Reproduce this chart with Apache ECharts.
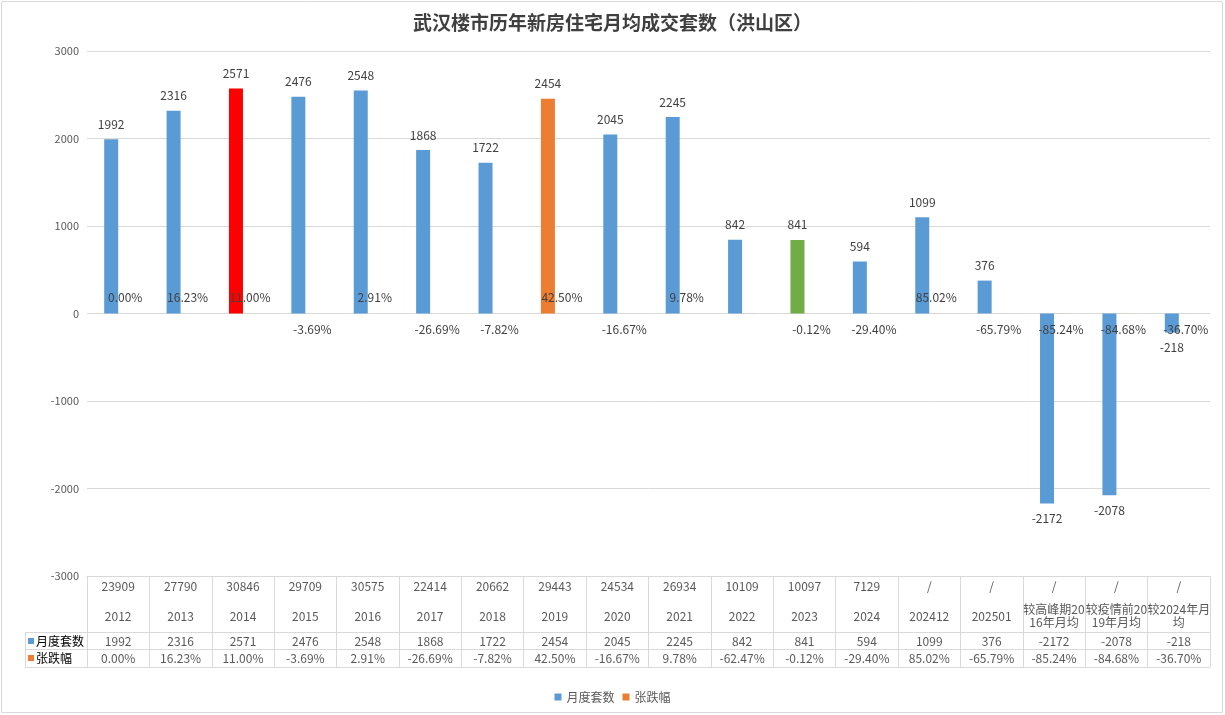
<!DOCTYPE html>
<html><head><meta charset="utf-8">
<script src="https://cdn.jsdelivr.net/npm/echarts@6/dist/echarts.min.js"></script>
<style>html,body{margin:0;padding:0;background:#fff}#c{width:1225px;height:715px}</style>
</head><body><div id="c"></div>
<script>
const categories = ['2012','2013','2014','2015','2016','2017','2018','2019','2020','2021','2022','2023','2024','202412','202501','较高峰期2016年月均','较疫情前2019年月均','较2024年月均'];
const yearTotals = ['23909','27790','30846','29709','30575','22414','20662','29443','24534','26934','10109','10097','7129','/','/','/','/','/'];
const monthlyAvg = [1992,2316,2571,2476,2548,1868,1722,2454,2045,2245,842,841,594,1099,376,-2172,-2078,-218];
const changePct = [0.00,16.23,11.00,-3.69,2.91,-26.69,-7.82,42.50,-16.67,9.78,-62.47,-0.12,-29.40,85.02,-65.79,-85.24,-84.68,-36.70];
const yMin = -3000, yMax = 3000, yInterval = 1000;
const highlight = {2:'#FF0000', 7:'#ED7D31', 11:'#70AD47'};
const hiddenPctLabel = [10];

const BLUE = '#5B9BD5', ORANGE = '#ED7D31', GRID = '#d9d9d9', TXT = '#595959', LBL = '#404040';
const FONT = '"Noto Sans CJK SC", "Microsoft YaHei", sans-serif';
const rect = {left:87, right:15, top:51, bottom:139};

function tableAxis(idx, margin, fmt, extra){
  return Object.assign({
    gridIndex: idx, type:'category', data: categories,
    axisLine:{show:false}, axisTick:{show:false},
    axisLabel:{interval:0, margin: margin, verticalAlign:'middle', fontSize:12, color:TXT, fontFamily:FONT, formatter: fmt}
  }, extra||{});
}

const chart = echarts.init(document.getElementById('c'));
chart.setOption({
  backgroundColor:'#fff',
  textStyle:{fontFamily:FONT},
  title:{text:'武汉楼市历年新房住宅月均成交套数（洪山区）', left:'center', top:8,
    textStyle:{fontSize:19, fontWeight:'bold', color:'#3f3f3f', fontFamily:FONT}},
  legend:{data:['月度套数','张跌幅'], left:'center', top:686, icon:'rect', itemWidth:7, itemHeight:7, itemGap:8,
    textStyle:{fontSize:12, color:TXT, fontFamily:FONT}},
  grid:[Object.assign({},rect),Object.assign({},rect),Object.assign({},rect),Object.assign({},rect)],
  xAxis:[
    {gridIndex:0, type:'category', data:categories,
      axisLine:{show:true, onZero:false, lineStyle:{color:GRID}},
      axisTick:{show:true, interval:0, length:91, lineStyle:{color:GRID}},
      axisLabel:{interval:0, margin:40, verticalAlign:'middle', width:64, overflow:'breakAll', lineHeight:13,
        fontSize:12, color:TXT, fontFamily:FONT}},
    tableAxis(1, 10, (v,i)=>yearTotals[i]),
    tableAxis(2, 65, (v,i)=>String(monthlyAvg[i])),
    tableAxis(3, 82, (v,i)=>changePct[i].toFixed(2)+'%')
  ],
  yAxis:[
    {gridIndex:0, type:'value', min:yMin, max:yMax, interval:yInterval,
      axisLine:{show:false}, axisTick:{show:false},
      axisLabel:{fontSize:11, color:TXT, margin:8, fontFamily:FONT, formatter:v=>String(v)},
      splitLine:{lineStyle:{color:GRID}}},
    {gridIndex:1, type:'value', min:yMin, max:yMax, show:false},
    {gridIndex:2, type:'value', min:yMin, max:yMax, show:false},
    {gridIndex:3, type:'value', min:yMin, max:yMax, show:false}
  ],
  series:[
    {name:'月度套数', type:'bar', xAxisIndex:0, yAxisIndex:0, barWidth:14, barGap:'0%',
      itemStyle:{color:BLUE},
      data: monthlyAvg.map((v,i)=>({value:v,
        itemStyle: highlight[i] ? {color:highlight[i]} : undefined,
        label:{position: v<0?'bottom':'top'}})),
      label:{show:true, fontSize:12, color:LBL, distance:9, fontFamily:FONT}},
    {name:'张跌幅', type:'bar', xAxisIndex:0, yAxisIndex:0, barWidth:14,
      itemStyle:{color:ORANGE},
      data: changePct.map((v,i)=>({value:v/100,
        label:{show: hiddenPctLabel.indexOf(i)<0, position: v<0?'bottom':'top'}})),
      label:{show:true, fontSize:12, color:LBL, distance:10, fontFamily:FONT,
        formatter:p=>changePct[p.dataIndex].toFixed(2)+'%'}}
  ],
  graphic:[
    {type:'rect', shape:{x:1.5,y:1.5,width:1221,height:711}, style:{fill:'none', stroke:GRID, lineWidth:1}, silent:true},
    {type:'line', shape:{x1:25,y1:632.5,x2:1210,y2:632.5}, style:{stroke:GRID, lineWidth:1}, silent:true},
    {type:'line', shape:{x1:25,y1:649.5,x2:1210,y2:649.5}, style:{stroke:GRID, lineWidth:1}, silent:true},
    {type:'line', shape:{x1:25,y1:667.5,x2:1210,y2:667.5}, style:{stroke:GRID, lineWidth:1}, silent:true},
    {type:'line', shape:{x1:25.5,y1:632,x2:25.5,y2:668}, style:{stroke:GRID, lineWidth:1}, silent:true},
    {type:'text', x:28, y:641, style:{text:'{s|}{t|月度套数}', verticalAlign:'middle',
      rich:{s:{width:6,height:6,backgroundColor:BLUE}, t:{fontSize:12, color:TXT, fontFamily:FONT, padding:[0,0,0,2]}}}},
    {type:'text', x:28, y:658, style:{text:'{s|}{t|张跌幅}', verticalAlign:'middle',
      rich:{s:{width:6,height:6,backgroundColor:ORANGE}, t:{fontSize:12, color:TXT, fontFamily:FONT, padding:[0,0,0,2]}}}}
  ]
});
</script></body></html>
